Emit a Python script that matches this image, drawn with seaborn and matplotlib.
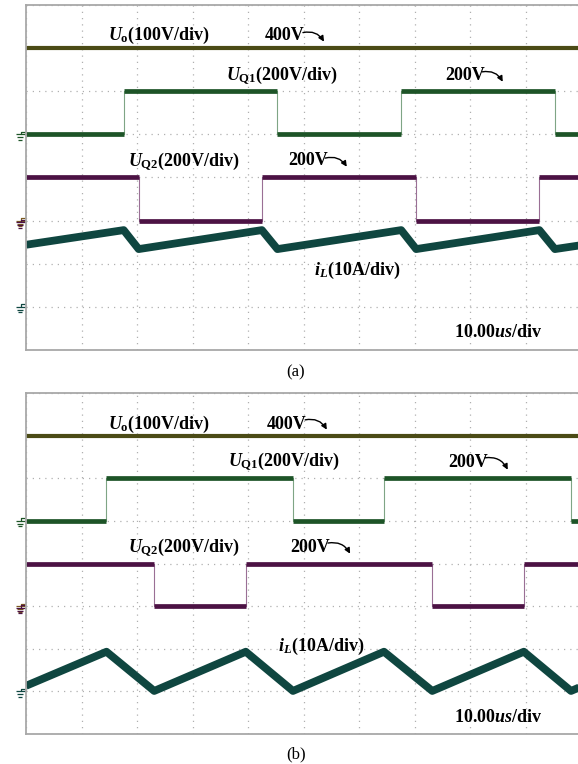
import numpy as np
import pandas as pd
import matplotlib
matplotlib.use("Agg")
import matplotlib.pyplot as plt
import matplotlib.transforms as mtransforms
import seaborn as sns

# ---------------- waveform data (time in us, physical units) ----------------
# operating point (a)
uo_time_a = [0.0, 100.0]
uo_a = [400, 400]
uq1_time_a = [0.0, 17.6, 17.6, 45.3, 45.3, 67.6, 67.6, 95.3, 95.3, 100.0]
uq1_a = [0, 0, 200, 200, 0, 0, 200, 200, 0, 0]
uq2_time_a = [0.0, 20.3, 20.3, 42.5, 42.5, 70.3, 70.3, 92.5, 92.5, 100.0]
uq2_a = [200, 200, 0, 0, 200, 200, 0, 0, 200, 200]
il_time_a = [0.0, 17.6, 20.3, 42.5, 45.3, 67.6, 70.3, 92.5, 95.3, 100.0]
il_a = [14.4, 17.8, 13.4, 17.8, 13.4, 17.8, 13.4, 17.8, 13.4, 14.3]

# operating point (b)
uo_time_b = [0.0, 100.0]
uo_b = [400, 400]
uq1_time_b = [0.0, 14.5, 14.5, 48.1, 48.1, 64.5, 64.5, 98.2, 98.2, 100.0]
uq1_b = [0, 0, 200, 200, 0, 0, 200, 200, 0, 0]
uq2_time_b = [0.0, 23.1, 23.1, 39.6, 39.6, 73.2, 73.2, 89.7, 89.7, 100.0]
uq2_b = [200, 200, 0, 0, 200, 200, 0, 0, 200, 200]
il_time_b = [0.0, 14.5, 23.1, 39.6, 48.1, 64.5, 73.2, 89.7, 98.2, 100.0]
il_b = [1.3, 9.3, 0.1, 9.3, 0.1, 9.3, 0.1, 9.3, 0.1, 1.1]

# channel setup: ground position (div), volts-or-amps per div, colour
channel_names = ["Uo", "UQ1", "UQ2", "iL"]
ground_div = [3, 5, 3, 1]
per_div = [100, 200, 200, 10]
colors = ["#4b4b16", "#1d5427", "#4c1244", "#0f4640"]
edge_colors = ["#8a8a5a", "#7fa585", "#9a6f95", "#5f8a85"]

labels = [r"$U_{\mathrm{o}}$(100V/div)", r"$U_{\mathrm{Q1}}$(200V/div)",
          r"$U_{\mathrm{Q2}}$(200V/div)", r"$i_L$(10A/div)"]
timebase = r"10.00$us$/div"

# ---------------- style ----------------
sns.set_theme(style="white")
plt.rcParams["font.family"] = ["Liberation Serif", "DejaVu Serif"]
plt.rcParams["mathtext.fontset"] = "custom"
plt.rcParams["mathtext.rm"] = "Liberation Serif:bold"
plt.rcParams["mathtext.it"] = "Liberation Serif:bold:italic"
plt.rcParams["mathtext.bf"] = "Liberation Serif:bold"

W, H = 578, 764
fig = plt.figure(figsize=(W / 100, H / 100), dpi=100)
fig.patch.set_facecolor("white")


def to_frame(time, values, idx):
    t = np.asarray(time, float)
    v = np.asarray(values, float)
    jump = np.r_[0, (np.diff(t) == 0).astype(int)]
    return pd.DataFrame({
        "t": t,
        "div": ground_div[idx] + v / per_div[idx],
        "seg": np.cumsum(jump),
    })


def ground_marker(ax, gy, color, dx=0.0):
    # small ground symbol drawn just left of the screen frame
    anchor = mtransforms.ScaledTranslation(0, gy, ax.get_yaxis_transform())
    tr = fig.dpi_scale_trans + anchor
    px = 0.01
    for x0, x1, y in [(-10, 0, 0), (-9, -3, -3), (-8, -4, -5.5)]:
        ax.plot([(x0 + dx) * px, (x1 + dx) * px], [y * px, y * px], color=color,
                lw=0.9, transform=tr, clip_on=False, solid_capstyle="butt")
    ax.plot([(-5 + dx) * px, (-5 + dx) * px, (-1 + dx) * px],
            [0, 2.5 * px, 2.5 * px], color=color, lw=0.9, transform=tr, clip_on=False)


def draw_panel(rect, data, texts, tag, tag_pos):
    ax = fig.add_axes(rect)
    ax.set_xlim(0, 100)
    ax.set_ylim(0, 8)
    ax.set_xticks(np.arange(0, 101, 10))
    ax.set_yticks(np.arange(0, 9, 1))
    ax.tick_params(length=0, labelbottom=False, labelleft=False)
    ax.grid(True, linestyle=(0, (1, 4)), color="#b0b0b0", lw=0.9)
    ax.set_axisbelow(True)
    for s in ax.spines.values():
        s.set_color("#a8a8a8")
        s.set_linewidth(1.3)

    for idx, (time, values) in enumerate(data):
        df = to_frame(time, values, idx)
        if idx in (1, 2):
            sns.lineplot(data=df, x="t", y="div", sort=False, estimator=None,
                         color=edge_colors[idx], lw=0.8, ax=ax)
            sns.lineplot(data=df, x="t", y="div", units="seg", sort=False,
                         estimator=None, color=colors[idx], lw=3.4, ax=ax,
                         solid_capstyle="butt")
        else:
            lw = 3.0 if idx == 0 else 5.6
            sns.lineplot(data=df, x="t", y="div", sort=False, estimator=None,
                         color=colors[idx], lw=lw, ax=ax, solid_capstyle="butt")
    ax.set_xlabel("")
    ax.set_ylabel("")

    ground_marker(ax, ground_div[1], colors[1])
    ground_marker(ax, ground_div[0], "#7a5a20")
    ground_marker(ax, ground_div[2] - 0.04, colors[2])
    ground_marker(ax, ground_div[3], colors[3])

    for (x, y, s) in texts["labels"]:
        ax.text(x, y, s, fontsize=13, fontweight="bold", ha="left",
                va="baseline", color="black")
    for (x, y, s, start, end) in texts["levels"]:
        ax.text(x, y, s, fontsize=13, fontweight="bold", ha="left",
                va="baseline", color="black")
        ax.annotate("", xy=end, xytext=start,
                    arrowprops=dict(arrowstyle="-|>", color="black", lw=1.0,
                                    mutation_scale=8, shrinkA=0, shrinkB=0,
                                    connectionstyle="arc3,rad=-0.35"))
    fig.text(tag_pos[0], tag_pos[1], tag, ha="center", va="center",
             fontsize=12, color="black")
    return ax


texts_a = {
    "labels": [(14.8, 7.20, labels[0]), (36.0, 6.26, labels[1]),
               (18.4, 4.25, labels[2]), (51.9, 1.74, labels[3]),
               (77.1, 0.30, timebase)],
    "levels": [(43.1, 7.20, "400V", (49.9, 7.36), (53.7, 7.15)),
               (75.5, 6.26, "200V", (82.2, 6.45), (85.9, 6.22)),
               (47.2, 4.29, "200V", (53.9, 4.45), (57.8, 4.25))],
}
texts_b = {
    "labels": [(14.8, 7.16, labels[0]), (36.4, 6.27, labels[1]),
               (18.4, 4.25, labels[2]), (45.4, 1.95, labels[3]),
               (77.1, 0.28, timebase)],
    "levels": [(43.4, 7.16, "400V", (50.3, 7.37), (54.2, 7.14)),
               (76.0, 6.27, "200V", (82.7, 6.48), (86.8, 6.20)),
               (47.6, 4.27, "200V", (54.4, 4.48), (58.4, 4.23))],
}

draw_panel([26 / W, (H - 350) / H, 555 / W, 345 / H],
           [(uo_time_a, uo_a), (uq1_time_a, uq1_a), (uq2_time_a, uq2_a), (il_time_a, il_a)],
           texts_a, "(a)", (296 / W, 1 - 372 / H))
draw_panel([26 / W, (H - 734) / H, 555 / W, 341 / H],
           [(uo_time_b, uo_b), (uq1_time_b, uq1_b), (uq2_time_b, uq2_b), (il_time_b, il_b)],
           texts_b, "(b)", (296 / W, 1 - 754 / H))

fig.savefig("out.png", dpi=100, facecolor="white")
